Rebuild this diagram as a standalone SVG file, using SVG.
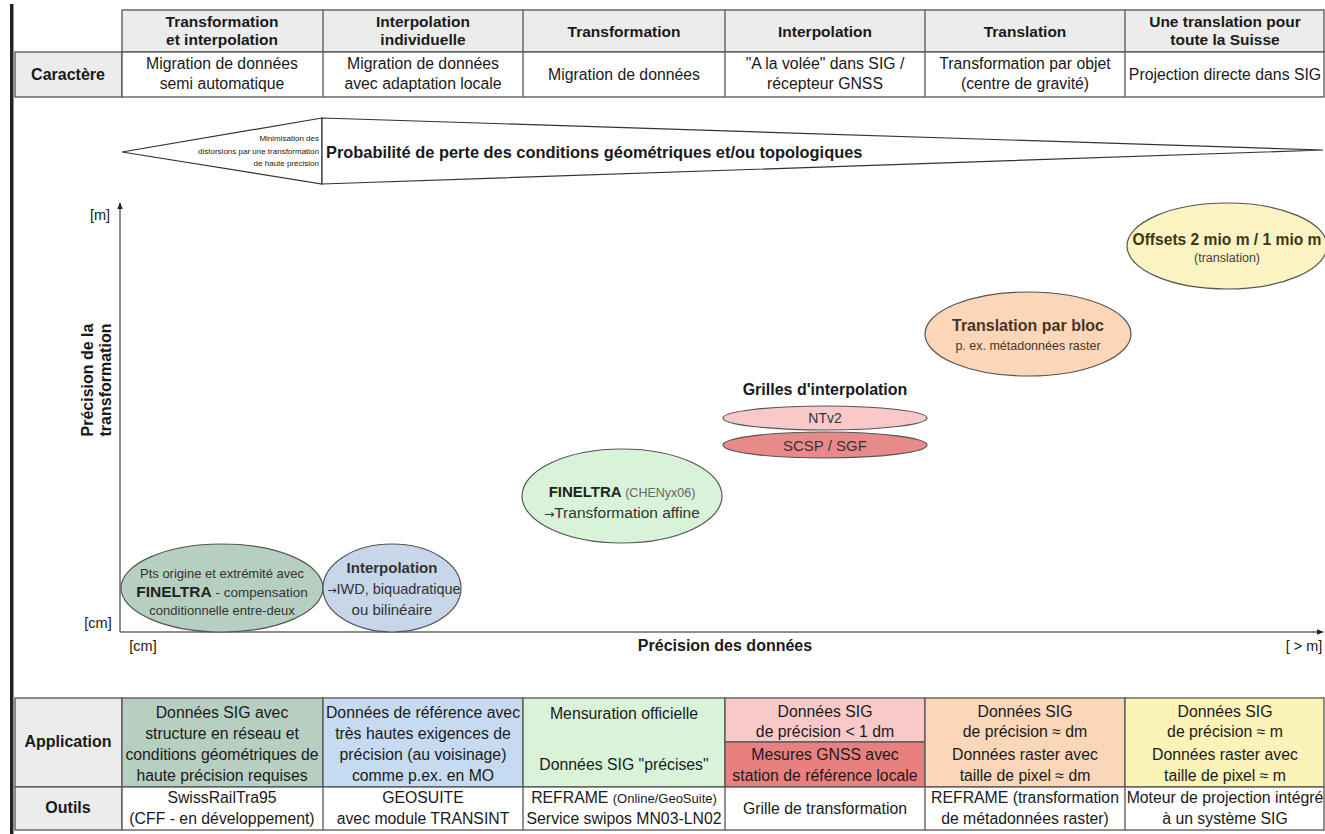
<svg xmlns="http://www.w3.org/2000/svg" width="1325" height="834" viewBox="0 0 1325 834">
<style>
text{font-family:"Liberation Sans",Arial,sans-serif;fill:#1a1a1a;text-anchor:middle}
.h{font-weight:bold;font-size:15.5px}
.b{font-size:15.8px}
.lbl{font-weight:bold;font-size:16px}
.cell{stroke:#555;stroke-width:1.3}
.el{stroke:#555;stroke-width:1.2}
.et{fill:#333}
.ar{font-family:"DejaVu Sans",sans-serif}
.ax{stroke:#666;stroke-width:1.5;fill:none}
</style>
<defs>
<marker id="arr" viewBox="0 0 10 10" refX="9" refY="5" markerWidth="7" markerHeight="7" orient="auto" markerUnits="userSpaceOnUse">
<path d="M0,1 L10,5 L0,9 z" fill="#222"/>
</marker>
</defs>
<rect x="0" y="0" width="1325" height="834" fill="#fff"/>
<rect x="10" y="4" width="3.5" height="830" fill="#222"/>

<g id="top-table">
<rect class="cell" x="122" y="10" width="1202" height="42" fill="#ececec"/>
<rect class="cell" x="15" y="52" width="107" height="45" fill="#ececec"/>
<rect class="cell" x="122" y="52" width="1202" height="45" fill="#fff"/>
<g class="cell">
<line x1="323" y1="10" x2="323" y2="97"/><line x1="523" y1="10" x2="523" y2="97"/>
<line x1="725" y1="10" x2="725" y2="97"/><line x1="925" y1="10" x2="925" y2="97"/>
<line x1="1125" y1="10" x2="1125" y2="97"/>
</g>
<text class="h" x="222" y="27">Transformation</text><text class="h" x="222" y="45">et interpolation</text>
<text class="h" x="423" y="27">Interpolation</text><text class="h" x="423" y="45">individuelle</text>
<text class="h" x="624" y="37">Transformation</text>
<text class="h" x="825" y="37">Interpolation</text>
<text class="h" x="1025" y="37">Translation</text>
<text class="h" x="1225" y="27">Une translation pour</text><text class="h" x="1225" y="45">toute la Suisse</text>
<text class="lbl" x="68" y="80">Caractère</text>
<text class="b" x="222" y="69">Migration de données</text><text class="b" x="222" y="89">semi automatique</text>
<text class="b" x="423" y="69">Migration de données</text><text class="b" x="423" y="89">avec adaptation locale</text>
<text class="b" x="624" y="80">Migration de données</text>
<text class="b" x="825" y="69">"A la volée" dans SIG /</text><text class="b" x="825" y="89">récepteur GNSS</text>
<text class="b" x="1025" y="69">Transformation par objet</text><text class="b" x="1025" y="89">(centre de gravité)</text>
<text class="b" x="1225" y="80">Projection directe dans SIG</text>
</g>

<g id="wedge">
<path d="M322,118 L122,152 L322,184 Z" fill="#fff" stroke="#333" stroke-width="1.2"/>
<path d="M322,118 L1323,150 L322,184 Z" fill="#fff" stroke="#333" stroke-width="1.2"/>
<text x="319" y="141" style="text-anchor:end;font-size:8px">Minimisation des</text>
<text x="319" y="154" style="text-anchor:end;font-size:8px">distorsions par une transformation</text>
<text x="319" y="166" style="text-anchor:end;font-size:8px">de haute précision</text>
<text x="326" y="158" style="text-anchor:start;font-weight:bold;font-size:16.4px">Probabilité de perte des conditions géométriques et/ou topologiques</text>
</g>

<g id="connectors">
<line class="ax" x1="120" y1="632" x2="120" y2="203" marker-end="url(#arr)"/>
<line class="ax" x1="120" y1="632" x2="1323" y2="632" marker-end="url(#arr)"/>
</g>
<g id="axis-labels">
<text x="100" y="220" style="font-size:14.5px">[m]</text>
<text x="98" y="628" style="font-size:14.5px">[cm]</text>
<text x="143" y="651" style="font-size:14.5px">[cm]</text>
<text x="725" y="651" class="lbl">Précision des données</text>
<text x="1304" y="651" style="font-size:14.5px">[ &gt; m]</text>
<g transform="translate(98,380) rotate(-90)">
<text x="0" y="-5" class="lbl">Précision de la</text>
<text x="0" y="13" class="lbl">transformation</text>
</g>
</g>

<g id="n-finelra-pts">
<ellipse class="el" cx="222" cy="588" rx="101" ry="44" fill="#b7cfc1"/>
<text class="et" x="222" y="578" style="font-size:13px">Pts origine et extrémité avec</text>
<text class="et" x="222" y="597" style="font-size:13.5px"><tspan style="font-weight:bold;font-size:15.5px;fill:#222">FINELTRA</tspan> - compensation</text>
<text class="et" x="222" y="615" style="font-size:13px">conditionnelle entre-deux</text>
</g>
<g id="n-interpolation">
<ellipse class="el" cx="392" cy="588" rx="69" ry="44" fill="#c7d7e9"/>
<text class="et" x="392" y="573" style="font-size:15px;font-weight:bold">Interpolation</text>
<text class="et" x="394" y="594" style="font-size:14.5px"><tspan class="ar" style="font-size:11px">→</tspan>IWD, biquadratique</text>
<text class="et" x="392" y="615" style="font-size:15px">ou bilinéaire</text>
</g>
<g id="n-finelra-affine">
<ellipse class="el" cx="622" cy="496" rx="100" ry="47" fill="#d9f3d9"/>
<text class="et" x="622" y="497" style="font-size:12.5px"><tspan style="font-weight:bold;font-size:15px;fill:#222">FINELTRA</tspan> <tspan style="fill:#666">(CHENyx06)</tspan></text>
<text class="et" x="622" y="518" style="font-size:15.5px"><tspan class="ar" style="font-size:12px">→</tspan>Transformation affine</text>
</g>
<g id="n-grilles">
<text x="825" y="395" class="lbl">Grilles d'interpolation</text>
<ellipse class="el" cx="825" cy="418" rx="102" ry="12" fill="#f9c9c9"/>
<text class="et" x="825" y="423" style="font-size:14px">NTv2</text>
<ellipse class="el" cx="825" cy="445" rx="102" ry="13" fill="#e98a8a"/>
<text class="et" x="825" y="450.5" style="font-size:15px">SCSP / SGF</text>
</g>
<g id="n-bloc">
<ellipse class="el" cx="1028" cy="334" rx="103" ry="42" fill="#fbd6b8"/>
<text x="1028" y="331" style="font-size:16px;font-weight:bold;fill:#4a3422">Translation par bloc</text>
<text x="1028" y="350" style="font-size:12.5px;fill:#4a3422">p. ex. métadonnées raster</text>
</g>
<g id="n-offsets">
<ellipse class="el" cx="1227" cy="246" rx="100" ry="43" fill="#fbf3c2"/>
<text x="1227" y="245" style="font-size:15.6px;font-weight:bold;fill:#3c3612">Offsets 2 mio m / 1 mio m</text>
<text x="1227" y="262" style="font-size:12.5px;fill:#444">(translation)</text>
</g>

<g id="bottom-table">
<rect class="cell" x="15" y="698" width="107" height="89" fill="#ececec"/>
<rect class="cell" x="15" y="787" width="107" height="43" fill="#ececec"/>
<rect class="cell" x="122" y="698" width="201" height="89" fill="#b7cfc1"/>
<rect class="cell" x="323" y="698" width="200" height="89" fill="#c6daf2"/>
<rect class="cell" x="523" y="698" width="202" height="89" fill="#d9f3d9"/>
<rect class="cell" x="725" y="698" width="200" height="44" fill="#f9c9c9"/>
<rect class="cell" x="725" y="742" width="200" height="45" fill="#e98080"/>
<rect class="cell" x="925" y="698" width="200" height="89" fill="#fbd6b8"/>
<rect class="cell" x="1125" y="698" width="199" height="89" fill="#fbf3b8"/>
<rect class="cell" x="122" y="787" width="1202" height="43" fill="#fff"/>
<g class="cell">
<line x1="323" y1="787" x2="323" y2="830"/><line x1="523" y1="787" x2="523" y2="830"/>
<line x1="725" y1="787" x2="725" y2="830"/><line x1="925" y1="787" x2="925" y2="830"/>
<line x1="1125" y1="787" x2="1125" y2="830"/>
</g>
<text class="lbl" x="68" y="747">Application</text>
<text class="lbl" x="68" y="813">Outils</text>
<text class="b" x="222" y="718">Données SIG avec</text><text class="b" x="222" y="739">structure en réseau et</text>
<text class="b" x="222" y="760">conditions géométriques de</text><text class="b" x="222" y="781">haute précision requises</text>
<text class="b" x="423" y="718">Données de référence avec</text><text class="b" x="423" y="739">très hautes exigences de</text>
<text class="b" x="423" y="760">précision (au voisinage)</text><text class="b" x="423" y="781">comme p.ex. en MO</text>
<text class="b" x="624" y="719">Mensuration officielle</text>
<text class="b" x="624" y="770">Données SIG "précises"</text>
<text class="b" x="825" y="717">Données SIG</text><text class="b" x="825" y="737">de précision &lt; 1 dm</text>
<text class="b" x="825" y="760">Mesures GNSS avec</text><text class="b" x="825" y="781">station de référence locale</text>
<text class="b" x="1025" y="717">Données SIG</text><text class="b" x="1025" y="737">de précision ≈ dm</text>
<text class="b" x="1025" y="760">Données raster avec</text><text class="b" x="1025" y="781">taille de pixel ≈ dm</text>
<text class="b" x="1225" y="717">Données SIG</text><text class="b" x="1225" y="737">de précision ≈ m</text>
<text class="b" x="1225" y="760">Données raster avec</text><text class="b" x="1225" y="781">taille de pixel ≈ m</text>
<text class="b" x="222" y="803">SwissRailTra95</text><text class="b" x="222" y="824">(CFF - en développement)</text>
<text class="b" x="423" y="803">GEOSUITE</text><text class="b" x="423" y="824">avec module TRANSINT</text>
<text class="b" x="624" y="803">REFRAME <tspan style="font-size:13px">(Online/GeoSuite)</tspan></text><text class="b" x="624" y="824">Service swipos MN03-LN02</text>
<text class="b" x="825" y="814">Grille de transformation</text>
<text class="b" x="1025" y="803">REFRAME (transformation</text><text class="b" x="1025" y="824">de métadonnées raster)</text>
<text class="b" x="1225" y="803">Moteur de projection intégré</text><text class="b" x="1225" y="824">à un système SIG</text>
</g>
</svg>
